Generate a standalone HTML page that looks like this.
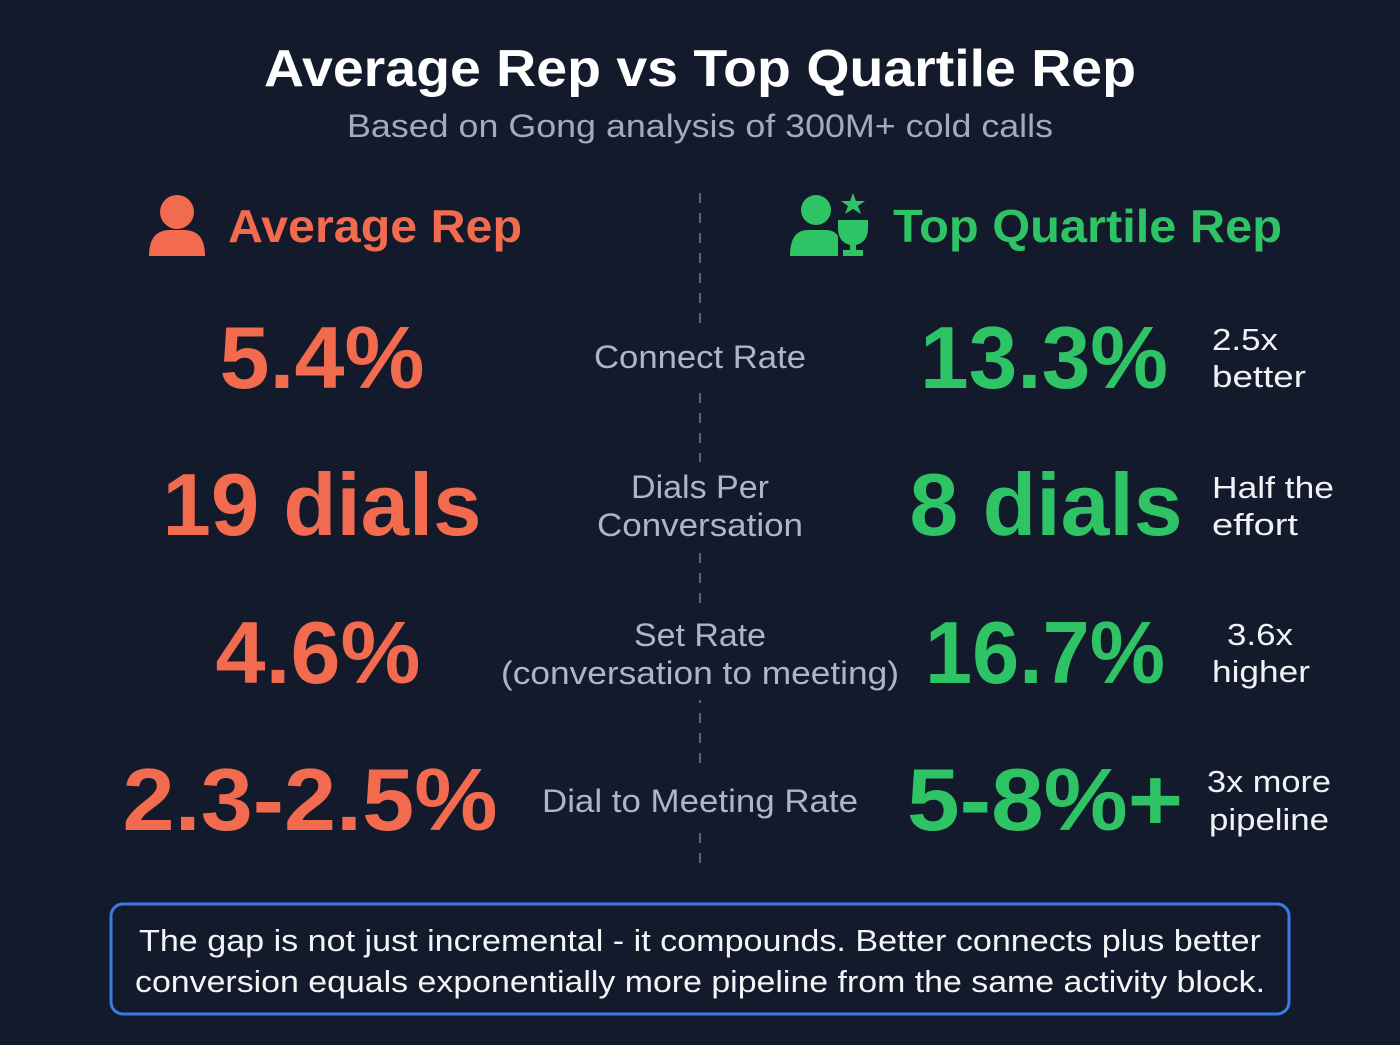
<!DOCTYPE html>
<html>
<head>
<meta charset="utf-8">
<style>
  html,body{margin:0;padding:0;background:#131a2b;}
  svg{display:block;}
  text{font-family:"Liberation Sans", sans-serif;}
</style>
</head>
<body>
<svg width="1400" height="1045" viewBox="0 0 1400 1045">
  <rect x="0" y="0" width="1400" height="1045" fill="#131a2b"/>

  <text x="700" y="86" text-anchor="middle" font-size="52" font-weight="bold" fill="#ffffff" textLength="872" lengthAdjust="spacingAndGlyphs">Average Rep vs Top Quartile Rep</text>
  <text x="700" y="137" text-anchor="middle" font-size="32" fill="#a3abbb" textLength="706" lengthAdjust="spacingAndGlyphs">Based on Gong analysis of 300M+ cold calls</text>

  <line x1="700" y1="193" x2="700" y2="870" stroke="#5b6275" stroke-width="2" stroke-dasharray="10,10"/>
  <g fill="#131a2b">
    <rect x="580" y="328" width="240" height="56"/>
    <rect x="580" y="462" width="240" height="88"/>
    <rect x="490" y="610" width="420" height="90"/>
    <rect x="530" y="772" width="340" height="56"/>
  </g>

  <!-- Average rep header -->
  <g fill="#f26b4f">
    <circle cx="177" cy="212" r="17"/>
    <path d="M149 256 Q149 230 170 230 L184 230 Q205 230 205 256 Z"/>
  </g>
  <text x="228" y="242" font-size="46" font-weight="bold" fill="#f26b4f" textLength="294" lengthAdjust="spacingAndGlyphs">Average Rep</text>

  <!-- Top quartile header -->
  <g fill="#2ec466">
    <circle cx="816" cy="210" r="15"/>
    <path d="M790 256 Q790 230 808 230 L826 230 Q834 230 838 236 L838 256 Z"/>
    <polygon points="853,193 856,201 865,201 858,206 861,214 853,209 845,214 848,206 841,201 850,201"/>
    <path d="M838 220 L868 220 L868 228 Q868 242 856 245 L856 250 L863 250 L863 256 L843 256 L843 250 L850 250 L850 245 Q838 242 838 228 Z"/>
  </g>
  <text x="893" y="242" font-size="46" font-weight="bold" fill="#2ec466" textLength="389" lengthAdjust="spacingAndGlyphs">Top Quartile Rep</text>

  <!-- Row 1 -->
  <text x="322" y="388" text-anchor="middle" font-size="88" font-weight="bold" fill="#f26b4f" textLength="205" lengthAdjust="spacingAndGlyphs">5.4%</text>
  <text x="700" y="368" text-anchor="middle" font-size="32" fill="#aeb5c4" textLength="212" lengthAdjust="spacingAndGlyphs">Connect Rate</text>
  <text x="1044" y="388" text-anchor="middle" font-size="88" font-weight="bold" fill="#2ec466" textLength="248" lengthAdjust="spacingAndGlyphs">13.3%</text>
  <text x="1212" y="350" font-size="31" fill="#f0f2f5" textLength="66" lengthAdjust="spacingAndGlyphs">2.5x</text>
  <text x="1212" y="387" font-size="31" fill="#f0f2f5" textLength="94" lengthAdjust="spacingAndGlyphs">better</text>

  <!-- Row 2 -->
  <text x="322" y="535" text-anchor="middle" font-size="88" font-weight="bold" fill="#f26b4f" textLength="319" lengthAdjust="spacingAndGlyphs">19 dials</text>
  <text x="700" y="498" text-anchor="middle" font-size="32" fill="#aeb5c4" textLength="138" lengthAdjust="spacingAndGlyphs">Dials Per</text>
  <text x="700" y="536" text-anchor="middle" font-size="32" fill="#aeb5c4" textLength="206" lengthAdjust="spacingAndGlyphs">Conversation</text>
  <text x="1046" y="535" text-anchor="middle" font-size="88" font-weight="bold" fill="#2ec466" textLength="273" lengthAdjust="spacingAndGlyphs">8 dials</text>
  <text x="1212" y="498" font-size="31" fill="#f0f2f5" textLength="122" lengthAdjust="spacingAndGlyphs">Half the</text>
  <text x="1212" y="535" font-size="31" fill="#f0f2f5" textLength="86" lengthAdjust="spacingAndGlyphs">effort</text>

  <!-- Row 3 -->
  <text x="318" y="683" text-anchor="middle" font-size="88" font-weight="bold" fill="#f26b4f" textLength="205" lengthAdjust="spacingAndGlyphs">4.6%</text>
  <text x="700" y="646" text-anchor="middle" font-size="32" fill="#aeb5c4" textLength="132" lengthAdjust="spacingAndGlyphs">Set Rate</text>
  <text x="700" y="684" text-anchor="middle" font-size="32" fill="#aeb5c4" textLength="398" lengthAdjust="spacingAndGlyphs">(conversation to meeting)</text>
  <text x="1045" y="683" text-anchor="middle" font-size="88" font-weight="bold" fill="#2ec466" textLength="240" lengthAdjust="spacingAndGlyphs">16.7%</text>
  <text x="1260" y="645" text-anchor="middle" font-size="31" fill="#f0f2f5" textLength="66" lengthAdjust="spacingAndGlyphs">3.6x</text>
  <text x="1212" y="682" font-size="31" fill="#f0f2f5" textLength="98" lengthAdjust="spacingAndGlyphs">higher</text>

  <!-- Row 4 -->
  <text x="310" y="830" text-anchor="middle" font-size="88" font-weight="bold" fill="#f26b4f" textLength="375" lengthAdjust="spacingAndGlyphs">2.3-2.5%</text>
  <text x="700" y="812" text-anchor="middle" font-size="32" fill="#aeb5c4" textLength="316" lengthAdjust="spacingAndGlyphs">Dial to Meeting Rate</text>
  <text x="1045" y="830" text-anchor="middle" font-size="88" font-weight="bold" fill="#2ec466" textLength="276" lengthAdjust="spacingAndGlyphs">5-8%+</text>
  <text x="1269" y="792" text-anchor="middle" font-size="31" fill="#f0f2f5" textLength="124" lengthAdjust="spacingAndGlyphs">3x more</text>
  <text x="1269" y="830" text-anchor="middle" font-size="31" fill="#f0f2f5" textLength="120" lengthAdjust="spacingAndGlyphs">pipeline</text>

  <!-- Callout -->
  <rect x="111" y="904" width="1178" height="110" rx="12" ry="12" fill="none" stroke="#3b7be8" stroke-width="3"/>
  <text x="700" y="951" text-anchor="middle" font-size="31" fill="#f3f4f6" textLength="1122" lengthAdjust="spacingAndGlyphs">The gap is not just incremental - it compounds. Better connects plus better</text>
  <text x="700" y="992" text-anchor="middle" font-size="31" fill="#f3f4f6" textLength="1130" lengthAdjust="spacingAndGlyphs">conversion equals exponentially more pipeline from the same activity block.</text>
</svg>
</body>
</html>
